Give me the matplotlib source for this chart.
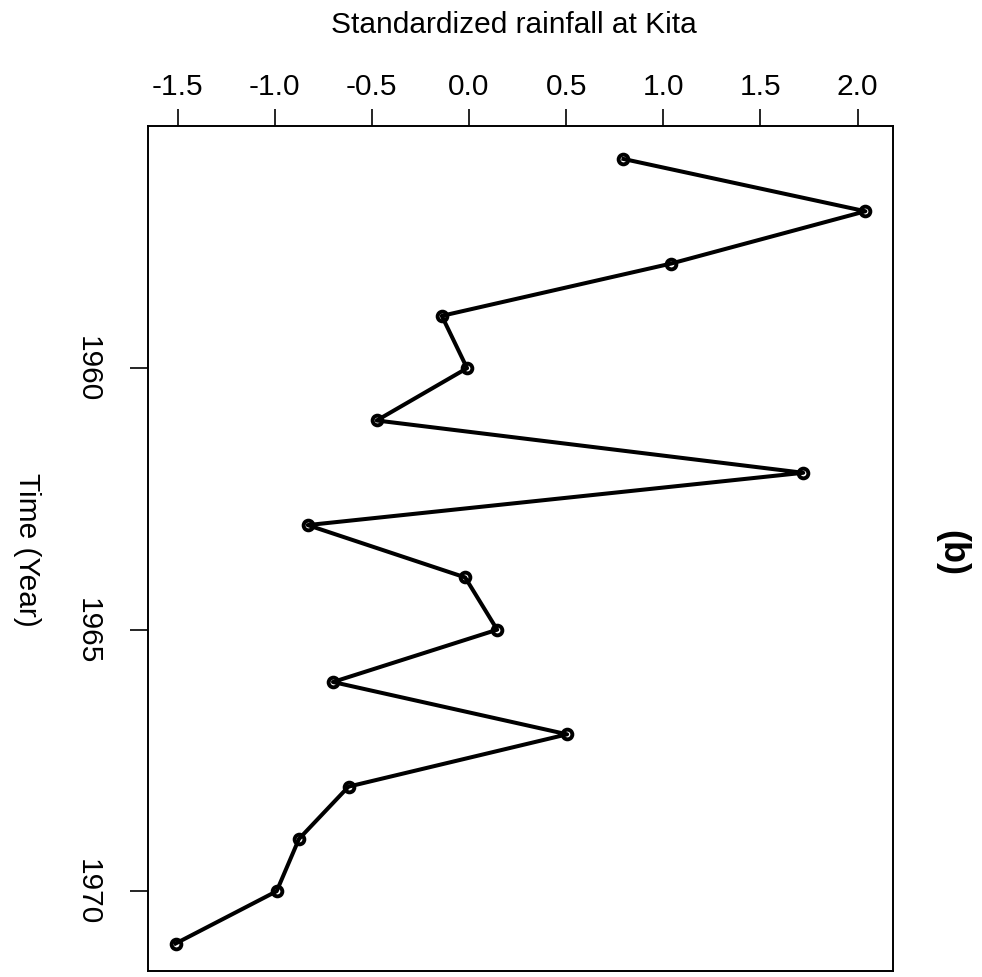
import matplotlib
matplotlib.use('Agg')
import matplotlib.pyplot as plt

plt.rcParams['font.family'] = ['Liberation Sans', 'DejaVu Sans']

# Standardized rainfall at Kita, one value per year
years = [1956, 1957, 1958, 1959, 1960, 1961, 1962, 1963,
         1964, 1965, 1966, 1967, 1968, 1969, 1970, 1971]
rain = [0.795, 2.04, 1.04, -0.14, -0.01, -0.475, 1.72, -0.83,
        -0.02, 0.145, -0.70, 0.505, -0.62, -0.875, -0.99, -1.51]

xticks = [-1.5, -1.0, -0.5, 0.0, 0.5, 1.0, 1.5, 2.0]
xticklabels = ['-1.5', '-1.0', '-0.5', '0.0', '0.5', '1.0', '1.5', '2.0']
yticks = [1960, 1965, 1970]

fig = plt.figure(figsize=(9.82, 9.78), dpi=100)
ax = fig.add_axes([148/982, 1 - 972/978, (893-148)/982, (972-127)/978])

ax.plot(rain, years, color='black', lw=2.9, marker='o', ms=7,
        mfc='none', mec='black', mew=2.8)

# R style 4% padding
xr = max(rain) - min(rain)
yr = max(years) - min(years)
ax.set_xlim(min(rain) - 0.04*xr, max(rain) + 0.04*xr)
ax.set_ylim(max(years) + 0.035*yr, min(years) - 0.042*yr)

ax.xaxis.tick_top()
ax.set_xticks(xticks)
ax.set_xticklabels(xticklabels)
ax.set_yticks(yticks)
ax.set_yticklabels([str(y) for y in yticks], rotation=-90, va='center')
ax.tick_params(axis='x', length=12, width=1.2, pad=7, labelsize=21.5)
ax.tick_params(axis='y', length=13, width=1.2, pad=20, labelsize=21.5)
for s in ax.spines.values():
    s.set_linewidth(1.4)

fig.text(514/982, 1 - 33/978, 'Standardized rainfall at Kita', ha='center',
         va='baseline', fontsize=21.5)
fig.text(27/982, 1 - 550/978, 'Time (Year)', ha='center', va='center',
         rotation=-90, fontsize=21.5)
fig.text(952/982, 1 - 553/978, '(b)', ha='center', va='center',
         rotation=-90, fontsize=26, fontweight='bold')

fig.savefig('out.png', dpi=100)
